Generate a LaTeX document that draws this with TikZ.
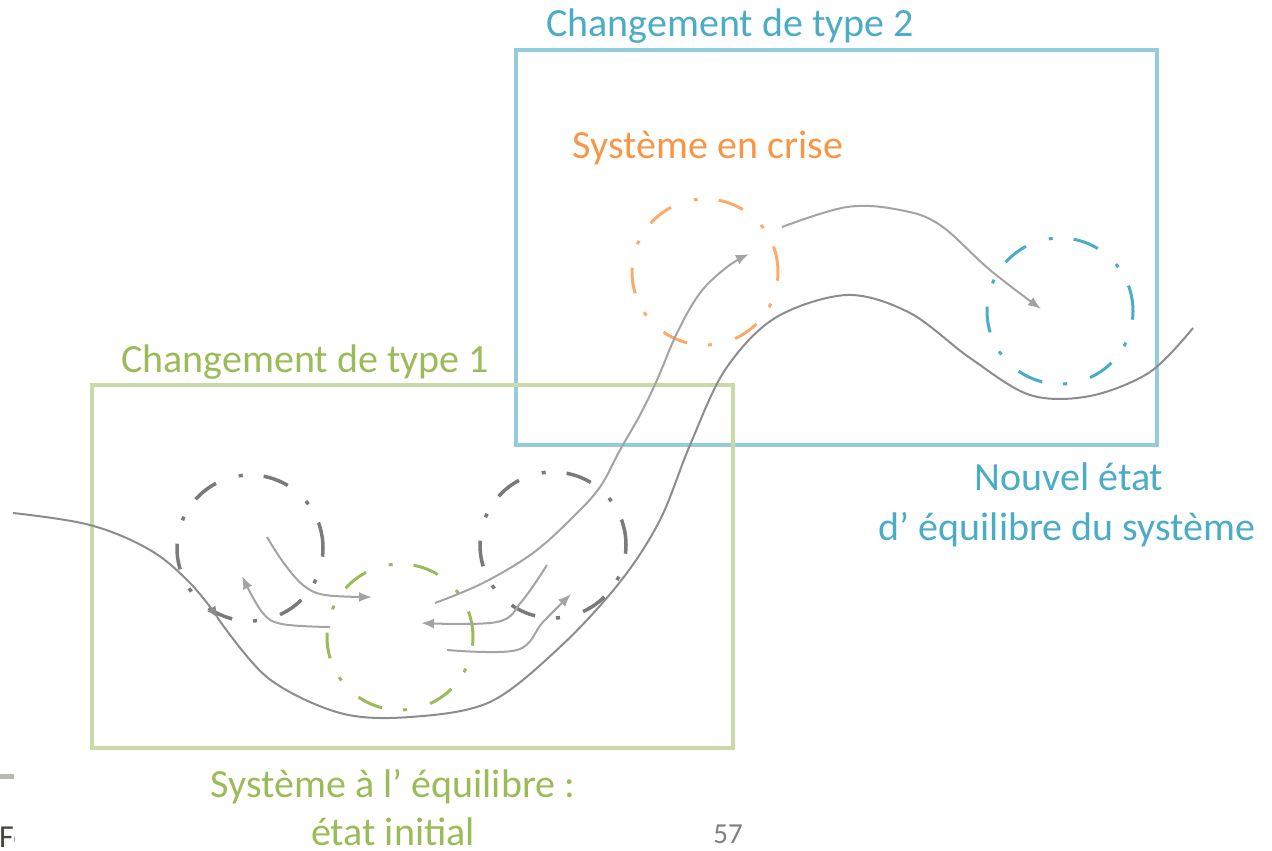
\documentclass[tikz,border=0pt]{standalone}
\usepackage{fontspec}
\setmainfont{Carlito}
\usetikzlibrary{arrows.meta}
\definecolor{txtgreen}{HTML}{9BBB59}
\definecolor{txtblue}{HTML}{4BACC6}
\definecolor{txtorange}{HTML}{F79646}
\definecolor{boxgreen}{HTML}{C9D9A8}
\definecolor{boxblue}{HTML}{93CDDD}
\definecolor{curvegray}{HTML}{8C8C8C}
\definecolor{arrowgray}{HTML}{A3A3A3}
\definecolor{ringgray}{HTML}{7A7A7A}
\definecolor{numgray}{HTML}{7F7F7F}
\tikzset{
  lbl/.style={font=\fontsize{40}{48}\selectfont, anchor=base, inner sep=0pt},
  frame/.style={line width=3.5pt},
  ring/.style={circle, draw, minimum size=146pt, inner sep=0pt, line width=3.5pt,
    dash pattern=on 26pt off 21pt on 4pt off 24pt},
  curve/.style={draw=curvegray, line width=2pt},
  flow/.style={draw=arrowgray, line width=2pt, -{Latex[length=13pt,width=10pt]}},
}
\begin{document}
\begin{tikzpicture}[x=1pt,y=-1pt]
\useasboundingbox (0,0) rectangle (1272,851);
% boxes
\draw[frame, draw=boxblue] (516,50) rectangle (1157,445);
\draw[frame, draw=boxgreen] (92,385) rectangle (733,748);
% labels
\node[lbl, text=txtblue] (t2) at (730,37) {Changement de type 2};
\node[lbl, text=txtgreen] (t1) at (305,372) {Changement de type 1};
\node[lbl, text=txtorange] (crise) at (708,158) {Système en crise};
\node[lbl, text=txtblue] (nouv1) at (1069,490) {Nouvel état};
\node[lbl, text=txtblue] (nouv2) at (1067,540) {d’ équilibre du système};
\node[lbl, text=txtgreen] (eq1) at (393,797) {Système à l’ équilibre :};
\node[lbl, text=txtgreen] (eq2) at (393,845) {état initial};
\node[anchor=base, inner sep=0pt, text=numgray, font=\fontsize{29}{34}\selectfont] (num) at (728,843) {57};
% cut-off margin pieces
\begin{scope}
\clip (0,760) rectangle (14,851);
\fill[color={rgb,255:red,185;green,185;blue,175}] (0,774) rectangle (20,779);
\node[anchor=base west, inner sep=0pt, text={rgb,255:red,70;green,70;blue,60}, font=\fontsize{32}{38}\selectfont] (fo) at (-1,847) {Fo};
\end{scope}
% rings
\node[ring, draw=ringgray] (g1) at (250,548) {};
\node[ring, draw=ringgray] (g2) at (553,545) {};
\node[ring, draw=txtgreen, line width=3pt] (gr) at (400,637) {};
\node[ring, draw=txtorange!80, line width=3pt] (or) at (705,272) {};
\node[ring, draw=txtblue, line width=3pt] (bl) at (1060,311) {};
% main curve
\draw[curve, -{Latex[length=13pt,width=10pt]}] plot[smooth, tension=0.6] coordinates {(13,513) (90,525) (150,550) (190,583) (219,619)};
\draw[curve] plot[smooth, tension=0.55] coordinates {(217,617) (268,678) (340,713) (410,717) (490,702) (560,647) (620,582) (660,520) (690,445) (725,370) (775,318) (847,295) (910,313) (970,358) (1030,395) (1090,396) (1150,372) (1193,328)};
% escape path to crisis
\draw[flow] plot[smooth, tension=0.6] coordinates {(435,603) (483,583) (533,553) (573,517) (600,487) (620,450) (640,415) (657,380) (677,333) (700,293) (727,267) (749,254)};
% from crisis to new equilibrium
\draw[flow] plot[smooth, tension=0.6] coordinates {(782,227) (847,207) (900,210) (940,225) (990,270) (1041,309)};
% small inner arrows
\draw[flow] plot[smooth, tension=0.6] coordinates {(267,537) (283,562) (303,585) (325,595) (372,597)};
\draw[flow] plot[smooth, tension=0.6] coordinates {(330,627) (282,624) (262,612) (242,576)};
\draw[flow] plot[smooth, tension=0.6] coordinates {(547,565) (522,601) (497,622) (421,623)};
\draw[flow] plot[smooth, tension=0.6] coordinates {(447,650) (517,650) (543,622) (571,594)};
\end{tikzpicture}
\end{document}
